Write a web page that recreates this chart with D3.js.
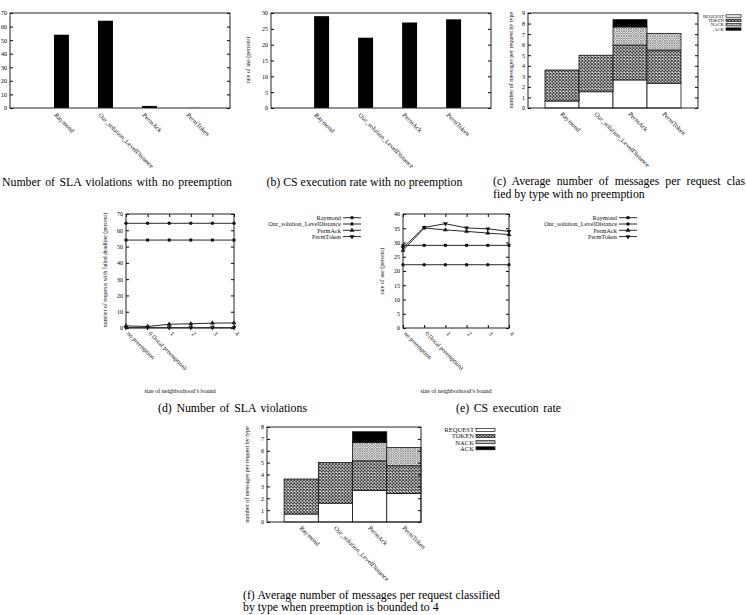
<!DOCTYPE html>
<html>
<head>
<meta charset="utf-8">
<script src="https://cdn.jsdelivr.net/npm/d3@7"></script>
<style>
  body { margin: 0; background: #fff; }
  svg { display: block; }
</style>
</head>
<body>
<div id="canvas"></div>
<script>
// data
const categories = ['Raymond', 'Our_solution_LevelDistance', 'PermAck', 'PermToken'];
const slaNoPreempt = [54, 64.3, 1.5, 0.1];
const rateNoPreempt = [29, 22.2, 27, 28];

const msgTypes = ['REQUEST', 'TOKEN', 'NACK', 'ACK'];
const reqNoPreempt = [0.66, 1.54, 2.66, 2.35];
const tokNoPreempt = [2.94, 3.46, 3.30, 3.14];
const nackNoPreempt = [0, 0, 1.72, 1.56];
const ackNoPreempt = [0, 0, 0.69, 0];

const reqBound4 = [0.67, 1.59, 2.67, 2.40];
const tokBound4 = [2.95, 3.42, 2.48, 2.34];
const nackBound4 = [0, 0, 1.56, 1.53];
const ackBound4 = [0, 0, 0.89, 0];

const bounds = ['no preemption', '0 (local preemption)', '1', '2', '3', '4'];
const slaRaymond = [54, 54, 54, 54, 54, 54];
const slaOur = [64.3, 64.3, 64.3, 64.3, 64.3, 64.3];
const slaPermAck = [1.3, 0.9, 2.3, 2.6, 3.0, 3.1];
const slaPermToken = [0.2, 0.2, 0.2, 0.2, 0.2, 0.2];
const rateRaymond = [29, 29, 29, 29, 29, 29];
const rateOur = [22.2, 22.2, 22.2, 22.2, 22.2, 22.2];
const ratePermAck = [27.2, 35.1, 34.4, 33.9, 33.3, 32.8];
const ratePermToken = [28.2, 35.3, 36.6, 35.1, 34.8, 33.9];

const w = 747, h = 615,
    serif = '"Liberation Serif","Times New Roman",serif',
    ink = '#111';

const svg = d3.select('#canvas').append('svg')
    .attr('width', w)
    .attr('height', h)
    .attr('font-family', serif)
    .style('background', '#fff');

// fill patterns for the stacked bars
const defs = svg.append('defs');
const tokPat = defs.append('pattern').attr('id', 'pat-token')
    .attr('patternUnits', 'userSpaceOnUse').attr('width', 3.2).attr('height', 3.2);
tokPat.append('rect').attr('width', 3.2).attr('height', 3.2).attr('fill', '#fff');
tokPat.append('path').attr('d', 'M0,0L3.2,3.2M3.2,0L0,3.2').attr('stroke', '#222').attr('stroke-width', 0.9);
const nackPat = defs.append('pattern').attr('id', 'pat-nack')
    .attr('patternUnits', 'userSpaceOnUse').attr('width', 2.4).attr('height', 2.4);
nackPat.append('rect').attr('width', 2.4).attr('height', 2.4).attr('fill', '#fff');
nackPat.append('path').attr('d', 'M0,0L2.4,2.4M2.4,0L0,2.4').attr('stroke', '#555').attr('stroke-width', 0.55);
const fills = {REQUEST: '#fff', TOKEN: 'url(#pat-token)', NACK: 'url(#pat-nack)', ACK: '#000'};

// y axis inside the frame, with mirrored ticks on the right
function yAxes(box, y, ticks, fs) {
    svg.append('g')
        .attr('transform', 'translate(' + box.x0 + ',0)')
        .call(d3.axisLeft(y).tickValues(ticks).tickSizeInner(-3).tickSizeOuter(0).tickPadding(3))
        .attr('font-family', serif).attr('font-size', fs)
        .call(a => a.select('.domain').remove());
    svg.append('g')
        .attr('transform', 'translate(' + box.x1 + ',0)')
        .call(d3.axisRight(y).tickValues(ticks).tickSizeInner(-3).tickSizeOuter(0).tickFormat(''))
        .call(a => a.select('.domain').remove());
}

function frame(box) {
    svg.append('rect')
        .attr('x', box.x0).attr('y', box.y0)
        .attr('width', box.x1 - box.x0).attr('height', box.y1 - box.y0)
        .attr('fill', 'none').attr('stroke', '#222').attr('stroke-width', 1);
}

function yLabel(text, x, cy, fs) {
    svg.append('text')
        .attr('transform', 'translate(' + x + ',' + cy + ') rotate(-90)')
        .attr('text-anchor', 'middle').attr('dy', '0.35em')
        .attr('font-size', fs).attr('fill', ink)
        .text(text);
}

function xLabels(labels, x, box, dx, dy, fs) {
    svg.append('g').selectAll('text')
        .data(labels)
        .join('text')
        .attr('transform', (d, i) => 'translate(' + (x(i) + dx) + ',' + (box.y1 + dy) + ') rotate(45)')
        .attr('font-size', fs).attr('fill', ink)
        .text(d => d);
}

// captions stretched a little with word spacing, like justified LaTeX
function caption(text, x, y, width) {
    const t = svg.append('text')
        .attr('x', x).attr('y', y)
        .attr('font-size', 11.8).attr('fill', '#000')
        .text(text);
    if (width) {
        const gaps = text.split(' ').length - 1;
        const extra = (width - t.node().getComputedTextLength()) / gaps;
        t.attr('word-spacing', Math.max(0, extra));
    }
}

// ---- (a) and (b): simple bar charts
function barPanel(box, values, ymax, step, xdom) {
    const x = d3.scaleLinear().domain(xdom).range([box.x0, box.x1]);
    const y = d3.scaleLinear().domain([0, ymax]).range([box.y1, box.y0]);
    const bw = 0.34;
    svg.append('g').selectAll('rect')
        .data(values)
        .join('rect')
        .attr('x', (d, i) => x(i - bw / 2))
        .attr('width', (d, i) => x(i + bw / 2) - x(i - bw / 2))
        .attr('y', d => y(d))
        .attr('height', d => y(0) - y(d))
        .attr('fill', '#000');
    yAxes(box, y, d3.range(0, ymax + 0.1, step), 6);
    frame(box);
    xLabels(categories, x, box, -7.5, 7.5, 6.5);
}

barPanel({x0: 10, x1: 230, y0: 13, y1: 108}, slaNoPreempt, 70, 10, [-1.17, 3.83]);
barPanel({x0: 271, x1: 491, y0: 13, y1: 108}, rateNoPreempt, 30, 5, [-1.15, 3.85]);
yLabel('rate of use (percent)', 248, 60, 5.8);

// ---- (c) and (f): stacked message counts
function stackPanel(box, cols, ymax, xdom, leg) {
    const rows = categories.map((c, i) => {
        const r = {cat: c};
        msgTypes.forEach((k, j) => r[k] = cols[j][i]);
        return r;
    });
    const series = d3.stack().keys(msgTypes)(rows);
    const x = d3.scaleLinear().domain(xdom).range([box.x0, box.x1]);
    const y = d3.scaleLinear().domain([0, ymax]).range([box.y1, box.y0]);

    svg.append('g').selectAll('g')
        .data(series)
        .join('g')
        .attr('fill', s => fills[s.key])
        .selectAll('rect')
        .data(s => s.filter(d => d[1] - d[0] > 0))
        .join('rect')
        .attr('x', d => x(categories.indexOf(d.data.cat) - 0.5))
        .attr('width', d => x(1) - x(0))
        .attr('y', d => y(d[1]))
        .attr('height', d => y(d[0]) - y(d[1]))
        .attr('stroke', '#111').attr('stroke-width', 0.8);

    yAxes(box, y, d3.range(0, ymax + 1), 6);
    frame(box);
    xLabels(categories, x, box, -2, 6.5, 6.5);

    // legend
    const lg = svg.append('g');
    msgTypes.forEach((k, j) => {
        const cy = leg.y + j * leg.dy;
        lg.append('text')
            .attr('x', leg.x).attr('y', cy).attr('dy', '0.35em')
            .attr('text-anchor', 'end').attr('font-size', leg.fs).attr('fill', ink)
            .text(k);
        lg.append('rect')
            .attr('x', leg.x + 2).attr('y', cy - leg.bh / 2)
            .attr('width', leg.bw).attr('height', leg.bh)
            .attr('fill', fills[k]).attr('stroke', '#111').attr('stroke-width', 0.7);
    });
}

stackPanel({x0: 528, x1: 698, y0: 13, y1: 108},
    [reqNoPreempt, tokNoPreempt, nackNoPreempt, ackNoPreempt], 9, [-1, 4],
    {x: 724, y: 16, dy: 4.35, fs: 4.7, bw: 15, bh: 2.4});
yLabel('number of messages per request by type', 510.5, 60, 6);

stackPanel({x0: 267, x1: 421, y0: 427, y1: 522},
    [reqBound4, tokBound4, nackBound4, ackBound4], 8, [-1, 3.5],
    {x: 474, y: 430, dy: 6.1, fs: 6.6, bw: 19, bh: 3});
yLabel('number of messages per request by type', 247, 474.5, 6);

// ---- (d) and (e): line charts over the neighbourhood bound
const symbols = [
    {type: d3.symbolSquare, size: 9, rot: 0},
    {type: d3.symbolCircle, size: 9, rot: 0},
    {type: d3.symbolTriangle, size: 10, rot: 0},
    {type: d3.symbolTriangle, size: 10, rot: 180}
];

function linePanel(box, lines, ymax, step, leg) {
    const x = d3.scaleLinear().domain([0, bounds.length - 1]).range([box.x0, box.x1]);
    const y = d3.scaleLinear().domain([0, ymax]).range([box.y1, box.y0]);
    const line = d3.line().x((d, i) => x(i)).y(d => y(d));

    yAxes(box, y, d3.range(0, ymax + 0.1, step), 6);
    // x ticks, inward at bottom and top
    svg.append('g')
        .attr('transform', 'translate(0,' + box.y1 + ')')
        .call(d3.axisBottom(x).ticks(bounds.length).tickSizeInner(-3).tickSizeOuter(0).tickFormat(''))
        .call(a => a.select('.domain').remove());
    svg.append('g')
        .attr('transform', 'translate(0,' + box.y0 + ')')
        .call(d3.axisTop(x).ticks(bounds.length).tickSizeInner(-3).tickSizeOuter(0).tickFormat(''))
        .call(a => a.select('.domain').remove());

    lines.forEach((vals, k) => {
        const g = svg.append('g');
        g.append('path').attr('d', line(vals))
            .attr('fill', 'none').attr('stroke', '#111').attr('stroke-width', 0.9);
        const sym = d3.symbol().type(symbols[k].type).size(symbols[k].size);
        g.selectAll('path.pt')
            .data(vals)
            .join('path').attr('class', 'pt')
            .attr('d', sym)
            .attr('transform', (d, i) => 'translate(' + x(i) + ',' + y(d) + ') rotate(' + symbols[k].rot + ')')
            .attr('fill', '#111');
    });
    frame(box);
    xLabels(bounds, x, box, 0.5, 6, 6.3);

    svg.append('text')
        .attr('x', (box.x0 + box.x1) / 2).attr('y', 392.5)
        .attr('text-anchor', 'middle').attr('font-size', 6).attr('fill', ink)
        .text('size of neighborhood\u2019s bound');

    // legend
    categories.forEach((c, k) => {
        const cy = leg.y + k * 6.3;
        svg.append('text')
            .attr('x', leg.x).attr('y', cy).attr('dy', '0.35em')
            .attr('text-anchor', 'end').attr('font-size', 6.3).attr('fill', ink)
            .text(c);
        svg.append('line')
            .attr('x1', leg.x + 2).attr('x2', leg.x + 20)
            .attr('y1', cy).attr('y2', cy)
            .attr('stroke', '#111').attr('stroke-width', 0.9);
        svg.append('path')
            .attr('d', d3.symbol().type(symbols[k].type).size(symbols[k].size)())
            .attr('transform', 'translate(' + (leg.x + 11) + ',' + cy + ') rotate(' + symbols[k].rot + ')')
            .attr('fill', '#111');
    });
}

linePanel({x0: 126, x1: 234, y0: 214, y1: 328},
    [slaRaymond, slaOur, slaPermAck, slaPermToken], 70, 10, {x: 341, y: 217.7});
yLabel('number of requests with failed deadline (percent)', 105, 270, 5.8);

linePanel({x0: 403, x1: 509, y0: 214, y1: 328},
    [rateRaymond, rateOur, ratePermAck, ratePermToken], 40, 5, {x: 617, y: 217.7});
yLabel('rate of use (percent)', 382, 271, 5.8);

// ---- captions (a) and (c) are cut by the page edge in the source figure
caption('Number of SLA violations with no preemption', 2, 185.5, 230);
caption('(b) CS execution rate with no preemption', 266.5, 185.5, 195);
caption('(c) Average number of messages per request clas', 493, 184.5, 252);
caption('fied by type with no preemption', 493, 197.5);
caption('(d) Number of SLA violations', 158, 411.5, 149);
caption('(e) CS execution rate', 456, 411.5, 105);
caption('(f) Average number of messages per request classified', 243, 598.5, 257);
caption('by type when preemption is bounded to 4', 243, 611);
</script>
</body>
</html>
